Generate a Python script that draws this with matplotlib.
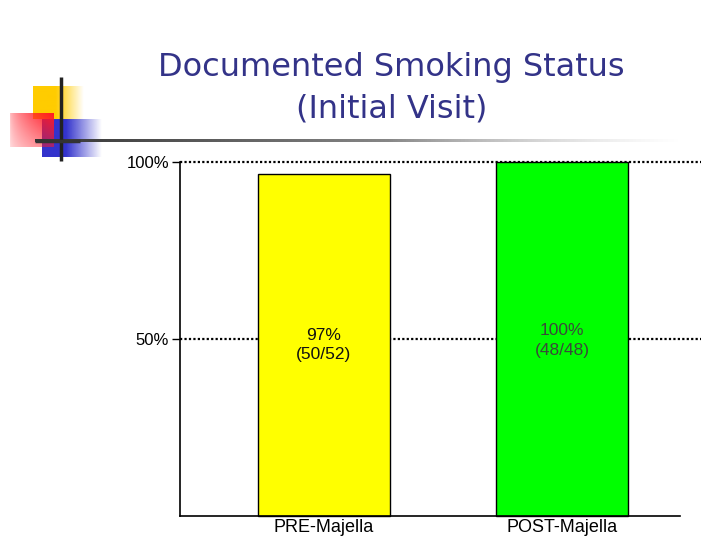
import numpy as np
import matplotlib
matplotlib.use("Agg")
import matplotlib.pyplot as plt

# chart data
categories = ["PRE-Majella", "POST-Majella"]
values = [96.5, 100]
bar_labels = ["97%\n(50/52)", "100%\n(48/48)"]
label_pos = [48.3, 49.6]
bar_colors = ["#FFFF00", "#00FF00"]
label_colors = ["#111111", "#3a4a3a"]
y_ticks = [50, 100]
y_tick_labels = ["50%", "100%"]

fig = plt.figure(figsize=(7.2, 5.4), dpi=100)

# decoration layer (pixel coordinates)
deco = fig.add_axes([0, 0, 1, 1], zorder=0)
deco.set_xlim(0, 720)
deco.set_ylim(540, 0)
deco.axis("off")


def fade_box(x0, x1, y0, y1, rgb, fade_from):
    w = 200
    t = np.linspace(0, 1, w)
    a = np.where(t < fade_from, 1.0, 1 - (t - fade_from) / (1 - fade_from))
    img = np.zeros((2, w, 4))
    img[..., :3] = rgb
    img[..., 3] = np.clip(a, 0, 1)
    deco.imshow(img, extent=(x0, x1, y1, y0), aspect="auto", interpolation="bilinear")


fade_box(33, 84, 86, 119, (1.0, 0.8, 0.0), 0.45)
fade_box(42, 102, 119, 157, (0.2, 0.2, 0.8), 0.4)
# red box fades to the left and downward
w, h = 120, 60
tx = np.linspace(0, 1, w)
ty = np.linspace(0, 1, h)
alpha = np.outer(1 - 0.45 * ty, 0.25 + 0.75 * tx ** 0.6)
red = np.zeros((h, w, 4))
red[..., 0] = 1.0
red[..., 1] = 0.1
red[..., 2] = 0.15
red[..., 3] = alpha
deco.imshow(red, extent=(10, 54, 147, 113), aspect="auto", interpolation="bilinear")

# horizontal rule fading to the right
n = 400
t = np.linspace(0, 1, n)
line_img = np.zeros((2, n, 4))
shade = 0.2 + 0.6 * t
line_img[..., 0] = shade
line_img[..., 1] = shade
line_img[..., 2] = shade
line_img[..., 3] = np.clip(1 - np.clip((t - 0.55) / 0.45, 0, 1), 0, 1)
deco.imshow(line_img, extent=(35, 680, 142.5, 139.5), aspect="auto", interpolation="bilinear")
deco.plot([61, 61], [77, 161], color="#222222", lw=2.5, solid_capstyle="butt")
deco.plot([35, 80], [141, 141], color="#333333", lw=2.5, solid_capstyle="butt")

fig.text(0.544, 0.836, "Documented Smoking Status\n(Initial Visit)", ha="center", va="center",
         fontsize=23, color="#333388", family="DejaVu Sans", linespacing=1.45)

# chart
ax = fig.add_axes([0.25, 0.0444, 0.6944, 0.6556], zorder=1)
ax.patch.set_alpha(0)
x = np.arange(len(categories))
for yv in y_ticks:
    ax.plot([0, 1.042], [yv, yv], transform=ax.get_yaxis_transform(), color="black",
            lw=1.6, linestyle=(0, (1, 1)), clip_on=False, zorder=1)
bars = ax.bar(x, values, width=0.555, color=bar_colors, edgecolor="black", linewidth=1, zorder=2)
for b in bars:
    b.set_clip_on(False)
for i in range(len(categories)):
    ax.text(x[i], label_pos[i], bar_labels[i], ha="center", va="center", fontsize=12.5,
            color=label_colors[i], family="Liberation Sans", linespacing=1.4, zorder=3)

ax.set_xlim(-0.605, 1.496)
ax.set_ylim(0, 100)
ax.set_yticks(y_ticks)
ax.set_yticklabels(y_tick_labels, family="Liberation Sans", fontsize=12)
ax.set_xticks(x)
ax.set_xticklabels(categories, family="Liberation Sans", fontsize=13)
ax.tick_params(axis="x", length=0, pad=2)
ax.tick_params(axis="y", length=6, width=1, direction="out", pad=2)
for s in ["top", "right"]:
    ax.spines[s].set_visible(False)
ax.spines["left"].set_linewidth(1.2)
ax.spines["bottom"].set_linewidth(1.2)

fig.savefig("out.png", dpi=100)
